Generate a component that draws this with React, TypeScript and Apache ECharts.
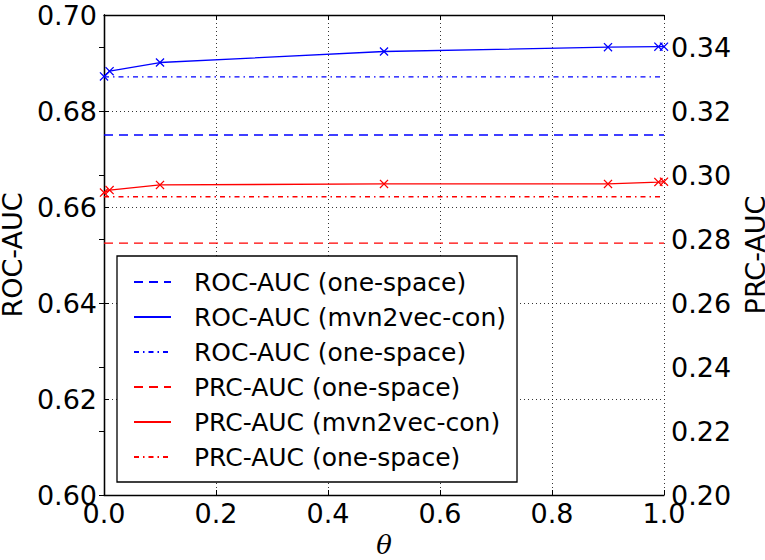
import React, { useEffect, useRef } from "react";
import * as echarts from "echarts";

// ---- data ----
const theta = [0, 0.01, 0.1, 0.5, 0.9, 0.99, 1.0];
const rocMvn2vecCon = [0.6872, 0.6883, 0.6901, 0.6924, 0.6933, 0.6934, 0.6934];
const prcMvn2vecCon = [0.2945, 0.2953, 0.2969, 0.2972, 0.2972, 0.2978, 0.2979];
const thetaRange = [0, 1];
const rocOneSpaceDashed = 0.675;
const rocOneSpaceDashDot = 0.6871;
const prcOneSpaceDashed = 0.2787;
const prcOneSpaceDashDot = 0.2932;
const seriesKeys = ["rocDash", "rocCon", "rocDashDot", "prcDash", "prcCon", "prcDashDot"];
const legendLabels = [
  "ROC-AUC (one-space)",
  "ROC-AUC (mvn2vec-con)",
  "ROC-AUC (one-space)",
  "PRC-AUC (one-space)",
  "PRC-AUC (mvn2vec-con)",
  "PRC-AUC (one-space)",
];
const xTickFmt = (v: number) => v.toFixed(1);
const leftTickFmt = (v: number) => v.toFixed(2);
const rightTickFmt = (v: number) => v.toFixed(2);

const FONT = "DejaVu Sans";
const BLUE = "#0000ff";
const RED = "#ff0000";
const XMARK = "path://M0,1L1,0L5,4L9,0L10,1L6,5L10,9L9,10L5,6L1,10L0,9L4,5Z";
const DASH = [9, 6];
const DASHDOT = [5, 4, 1.5, 4];

export default function App() {
  const ref = useRef<HTMLDivElement>(null);
  useEffect(() => {
    document.body.style.margin = "0";
    const chart = echarts.init(ref.current!, undefined, { renderer: "svg" });
    const hline = (v: number) => thetaRange.map((t) => [t, v]);
    const labelMap: Record<string, string> = {};
    seriesKeys.forEach((k, i) => (labelMap[k] = legendLabels[i]));
    const axisLine = { show: true, lineStyle: { color: "#000", width: 1.3 } };
    const tick = { show: true, inside: true, length: 5, lineStyle: { color: "#000", width: 1 } };
    const lbl = { color: "#000", fontFamily: FONT, fontSize: 27 };
    const option: any = {
      animation: false,
      backgroundColor: "#fff",
      grid: { left: 104, right: 101, top: 15, bottom: 65, containLabel: false, outerBoundsMode: "none" },
      legend: {
        orient: "vertical",
        left: 117,
        top: 256,
        padding: [13, 11, 12, 16],
        itemWidth: 37,
        itemHeight: 14,
        itemGap: 9,
        borderColor: "#000",
        borderWidth: 1.3,
        backgroundColor: "#fff",
        borderRadius: 0,
        data: seriesKeys,
        formatter: (n: string) => labelMap[n],
        itemStyle: { opacity: 0 },
        textStyle: { fontFamily: FONT, fontSize: 25, color: "#000", lineHeight: 26, padding: [0, 0, 0, 18] },
        selectedMode: false,
      },
      xAxis: [
        {
          type: "value",
          min: 0,
          max: 1,
          interval: 0.2,
          position: "bottom",
          name: "θ",
          nameLocation: "middle",
          nameGap: 35,
          nameTextStyle: { fontFamily: "DejaVu Serif", fontStyle: "italic", fontSize: 26, color: "#000" },
          axisLine,
          axisTick: tick,
          axisLabel: { ...lbl, margin: 5, formatter: xTickFmt },
          splitLine: { show: true, lineStyle: { color: "#000", type: [1, 3], width: 0.8 } },
        },
        {
          type: "value",
          min: 0,
          max: 1,
          interval: 0.2,
          position: "top",
          axisLine,
          axisTick: tick,
          axisLabel: { show: false },
          splitLine: { show: false },
        },
      ],
      yAxis: [
        {
          type: "value",
          min: 0.6,
          max: 0.7,
          interval: 0.02,
          position: "left",
          name: "ROC-AUC",
          nameLocation: "middle",
          nameGap: 60,
          nameTextStyle: { fontFamily: FONT, fontSize: 27, color: "#000" },
          axisLine,
          axisTick: tick,
          axisLabel: { ...lbl, margin: 7, formatter: leftTickFmt },
          splitLine: { show: true, lineStyle: { color: "#000", type: [1, 3], width: 0.8 } },
        },
        {
          type: "value",
          min: 0.2,
          max: 0.35,
          interval: 0.02,
          position: "right",
          name: "PRC-AUC",
          nameLocation: "middle",
          nameGap: 70,
          nameTextStyle: { fontFamily: FONT, fontSize: 27, color: "#000" },
          axisLine,
          axisTick: tick,
          axisLabel: { ...lbl, margin: 7, formatter: rightTickFmt, showMaxLabel: false },
          splitLine: { show: false },
        },
      ],
      series: [
        {
          name: seriesKeys[0],
          type: "line",
          yAxisIndex: 0,
          data: hline(rocOneSpaceDashed),
          symbol: "none",
          color: BLUE,
          lineStyle: { color: BLUE, width: 1.3, type: DASH },
        },
        {
          name: seriesKeys[1],
          type: "line",
          yAxisIndex: 0,
          data: theta.map((t, i) => [t, rocMvn2vecCon[i]]),
          symbol: XMARK,
          symbolSize: 9,
          showAllSymbol: true,
          color: BLUE,
          itemStyle: { color: BLUE },
          lineStyle: { color: BLUE, width: 1.3 },
        },
        {
          name: seriesKeys[2],
          type: "line",
          yAxisIndex: 0,
          data: hline(rocOneSpaceDashDot),
          symbol: "none",
          color: BLUE,
          lineStyle: { color: BLUE, width: 1.3, type: DASHDOT },
        },
        {
          name: seriesKeys[3],
          type: "line",
          yAxisIndex: 1,
          data: hline(prcOneSpaceDashed),
          symbol: "none",
          color: RED,
          lineStyle: { color: RED, width: 1.3, type: DASH },
        },
        {
          name: seriesKeys[4],
          type: "line",
          yAxisIndex: 1,
          data: theta.map((t, i) => [t, prcMvn2vecCon[i]]),
          symbol: XMARK,
          symbolSize: 9,
          showAllSymbol: true,
          color: RED,
          itemStyle: { color: RED },
          lineStyle: { color: RED, width: 1.3 },
        },
        {
          name: seriesKeys[5],
          type: "line",
          yAxisIndex: 1,
          data: hline(prcOneSpaceDashDot),
          symbol: "none",
          color: RED,
          lineStyle: { color: RED, width: 1.3, type: DASHDOT },
        },
      ],
    };
    chart.setOption(option);
    return () => chart.dispose();
  }, []);
  return <div ref={ref} style={{ width: 765, height: 560 }} />;
}
